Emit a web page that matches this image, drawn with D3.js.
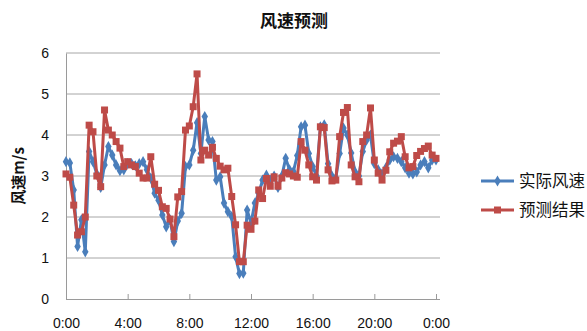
<!DOCTYPE html>
<html>
<head>
<meta charset="utf-8">
<script src="https://cdn.jsdelivr.net/npm/d3@7/dist/d3.min.js"></script>
<style>
  html, body { margin: 0; padding: 0; background: #fff; }
  svg { display: block; }
  text { font-family: "Liberation Sans", "Noto Sans CJK SC", sans-serif; fill: #111; }
  .cjk { font-family: "Noto Sans CJK SC", sans-serif; }
</style>
</head>
<body>
<svg id="chart" width="587" height="331"></svg>
<script>
// 15-minute samples from 0:00 to 24:00
const tickLabels = ["0:00", "4:00", "8:00", "12:00", "16:00", "20:00", "0:00"];
const yTicks = [0, 1, 2, 3, 4, 5, 6];
const seriesNames = ["实际风速", "预测结果"];

const actualSpeed = [
  3.35, 3.32, 2.66, 1.28, 1.93, 1.15, 3.60, 3.35, 3.05, 2.72, 3.27, 3.72, 3.51, 3.27, 3.13, 3.15,
  3.30, 3.30, 3.25, 3.30, 3.35, 3.15, 2.95, 2.58, 2.41, 2.05, 1.76, 1.93, 1.40, 1.90, 2.09, 3.23,
  3.27, 3.63, 4.30, 3.55, 4.45, 3.88, 3.84, 2.90, 2.98, 2.34, 2.13, 2.01, 1.03, 0.62, 0.63, 2.17,
  1.85, 2.34, 2.58, 2.90, 3.02, 2.90, 3.00, 2.72, 3.00, 3.43, 3.15, 3.11, 3.50, 4.20, 4.24, 3.55,
  3.23, 3.00, 4.20, 4.25, 3.30, 3.00, 2.95, 3.55, 4.17, 4.00, 3.56, 3.10, 3.00, 3.60, 3.88, 4.00,
  3.30, 3.15, 3.05, 3.20, 3.39, 3.47, 3.43, 3.35, 3.20, 3.07, 3.05, 3.10, 3.27, 3.35, 3.20, 3.39,
  3.39
];

const predictedSpeed = [
  3.05, 2.97, 2.29, 1.56, 1.64, 2.00, 4.24, 4.08, 3.00, 2.74, 4.61, 4.12, 4.00, 3.84, 3.68, 3.23,
  3.35, 3.27, 3.23, 3.07, 2.95, 2.95, 3.47, 2.80, 2.65, 2.25, 2.21, 1.95, 1.52, 2.49, 2.62, 4.12,
  4.22, 4.69, 5.49, 3.39, 3.63, 3.51, 3.70, 3.43, 3.24, 3.15, 3.19, 2.50, 1.81, 0.91, 0.91, 1.80,
  1.70, 1.90, 2.66, 2.45, 2.94, 2.75, 2.98, 2.75, 2.95, 3.08, 3.05, 3.00, 2.97, 3.84, 3.63, 3.27,
  2.98, 2.90, 4.20, 4.18, 3.15, 2.88, 2.90, 3.96, 4.55, 4.67, 3.27, 2.98, 2.86, 3.84, 4.00, 4.66,
  3.39, 3.07, 2.90, 3.14, 3.59, 3.80, 3.85, 3.96, 3.47, 3.20, 3.23, 3.50, 3.60, 3.67, 3.73, 3.51,
  3.43
];

const colors = ["#4a7ebb", "#be4b48"];

const svg = d3.select("#chart");
const plot = { left: 66, right: 440, top: 53, bottom: 299 };

const x = d3.scaleLinear().domain([0, actualSpeed.length - 1]).range([plot.left, 436]);
const y = d3.scaleLinear().domain([0, 6]).range([plot.bottom, plot.top]);

// horizontal gridlines
svg.append("g")
  .selectAll("line")
  .data(yTicks.slice(1))
  .join("line")
  .attr("x1", plot.left).attr("x2", plot.right)
  .attr("y1", d => y(d)).attr("y2", d => y(d))
  .attr("stroke", "#a6a6a6").attr("stroke-width", 1);

// y axis
const yAxis = svg.append("g")
  .attr("transform", `translate(${plot.left},0)`)
  .call(d3.axisLeft(y).tickValues(yTicks).tickFormat(d3.format("d")).tickSize(0).tickPadding(17));
yAxis.select(".domain").attr("stroke", "#9a9a9a");
yAxis.selectAll("text").style("font-size", "14px").attr("fill", "#111");

// x axis with inward ticks every 4 hours
const tickIdx = tickLabels.map((_, i) => i * 16);
const xAxis = svg.append("g")
  .attr("transform", `translate(0,${plot.bottom})`)
  .call(d3.axisBottom(x).tickValues(tickIdx).tickFormat((d, i) => tickLabels[i])
    .tickSizeInner(-5).tickSizeOuter(0).tickPadding(19));
xAxis.select(".domain").attr("d", `M${plot.left},0.5H${plot.right}`).attr("stroke", "#9a9a9a");
xAxis.selectAll(".tick line").attr("stroke", "#9a9a9a");
xAxis.selectAll("text").style("font-size", "14px").attr("fill", "#111");

// series lines and markers
const line = d3.line().x((d, i) => x(i)).y(d => y(d));
const diamond = d3.symbol().type(d3.symbolDiamond).size(36);
const square = d3.symbol().type(d3.symbolSquare).size(49);
const series = [
  { name: seriesNames[0], values: actualSpeed, color: colors[0], sym: diamond },
  { name: seriesNames[1], values: predictedSpeed, color: colors[1], sym: square }
];

series.forEach(s => {
  svg.append("path")
    .datum(s.values)
    .attr("d", line)
    .attr("fill", "none")
    .attr("stroke", s.color)
    .attr("stroke-width", 3)
    .attr("stroke-linejoin", "round");
  svg.append("g")
    .selectAll("path")
    .data(s.values)
    .join("path")
    .attr("d", s.sym)
    .attr("transform", (d, i) => `translate(${x(i)},${y(d)})`)
    .attr("fill", s.color);
});

// title
svg.append("text")
  .attr("class", "cjk")
  .attr("x", 294).attr("y", 27)
  .attr("text-anchor", "middle")
  .style("font-size", "17px").style("font-weight", "bold")
  .text("风速预测");

// y axis title
svg.append("text")
  .attr("class", "cjk")
  .attr("transform", "translate(19,176) rotate(-90)")
  .attr("text-anchor", "middle")
  .attr("dy", "0.35em")
  .style("font-size", "15px").style("font-weight", "bold")
  .text("风速m/s");

// legend
const legend = svg.append("g");
series.forEach((s, i) => {
  const ly = 181 + i * 29;
  legend.append("line")
    .attr("x1", 481).attr("x2", 514).attr("y1", ly).attr("y2", ly)
    .attr("stroke", s.color).attr("stroke-width", 3);
  legend.append("path")
    .attr("d", s.sym)
    .attr("transform", `translate(497.5,${ly})`)
    .attr("fill", s.color);
  legend.append("text")
    .attr("class", "cjk")
    .attr("x", 519).attr("y", ly + 6)
    .style("font-size", "16.5px")
    .text(s.name);
});
</script>
</body>
</html>
